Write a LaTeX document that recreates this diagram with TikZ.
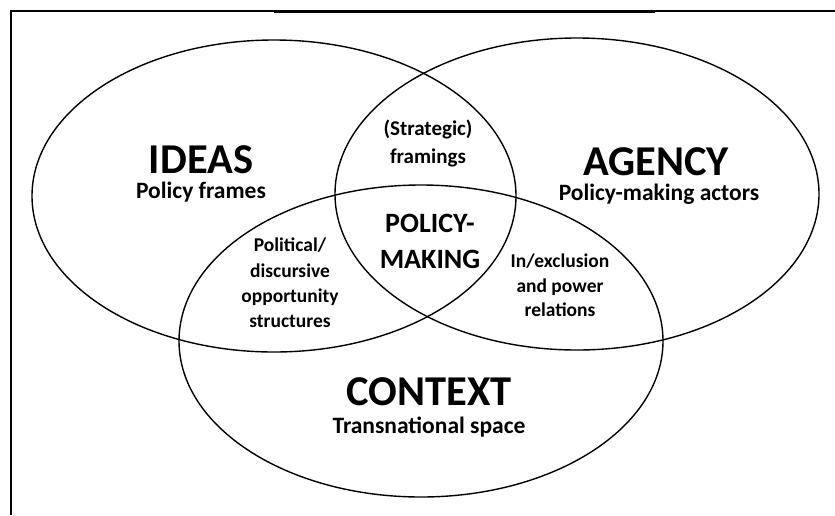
\documentclass[tikz,border=0pt]{standalone}
\usepackage{fontspec}
\setmainfont{Carlito}
\usetikzlibrary{shapes.geometric}
\tikzset{
  venn/.style={draw, ellipse, line width=1.4pt, minimum width=484pt, minimum height=312pt, inner sep=0pt},
  title/.style={font=\bfseries\fontsize{42.5}{46}\selectfont, anchor=base, inner sep=0pt},
  subtitle/.style={font=\bfseries\fontsize{23.5}{28}\selectfont, anchor=base, inner sep=0pt},
  overlap/.style={font=\bfseries\fontsize{19.5}{25.3}\selectfont, align=center, inner sep=0pt},
  framebar/.style={line width=2pt}
}
\begin{document}
\begin{tikzpicture}[x=1pt, y=-1pt]
\useasboundingbox (0,0) rectangle (835,515);
\fill[white] (0,0) rectangle (835,515);
% frame
\coordinate (fbl) at (10.5,515);
\coordinate (ftl) at (10.5,11);
\coordinate (ftr) at (835,11);
\coordinate (tka) at (274,11.6);
\coordinate (tkb) at (655,11.6);
\draw[framebar] (fbl) -- (ftl) -- (ftr);
\draw[line width=3pt] (tka) -- (tkb);
% ellipses
\node[venn] (ideas) at (274,196) {};
\node[venn] (agency) at (577,194) {};
\node[venn] (context) at (421,341) {};
% titles
\node[title] (tideas) at (201,173) {IDEAS};
\node[subtitle] (sideas) at (201,198.5) {Policy frames};
\node[title] (tagency) at (656,175) {AGENCY};
\node[subtitle] (sagency) at (659,200) {Policy-making actors};
\node[title] (tcontext) at (429,405) {CONTEXT};
\node[subtitle] (scontext) at (429,433) {Transnational space};
% overlaps
\node[overlap, font=\bfseries\fontsize{21}{28}\selectfont] (strat) at (428,143) {(Strategic)\\framings};
\node[overlap, font=\bfseries\fontsize{28}{36}\selectfont] (pm) at (430,241) {POLICY-\\MAKING};
\node[overlap] (pol) at (290,283) {Political/\\discursive\\opportunity\\structures};
\node[overlap, font=\bfseries\fontsize{19.5}{24.5}\selectfont] (incl) at (560,285.5) {In/exclusion\\and power\\relations};
\end{tikzpicture}
\end{document}
